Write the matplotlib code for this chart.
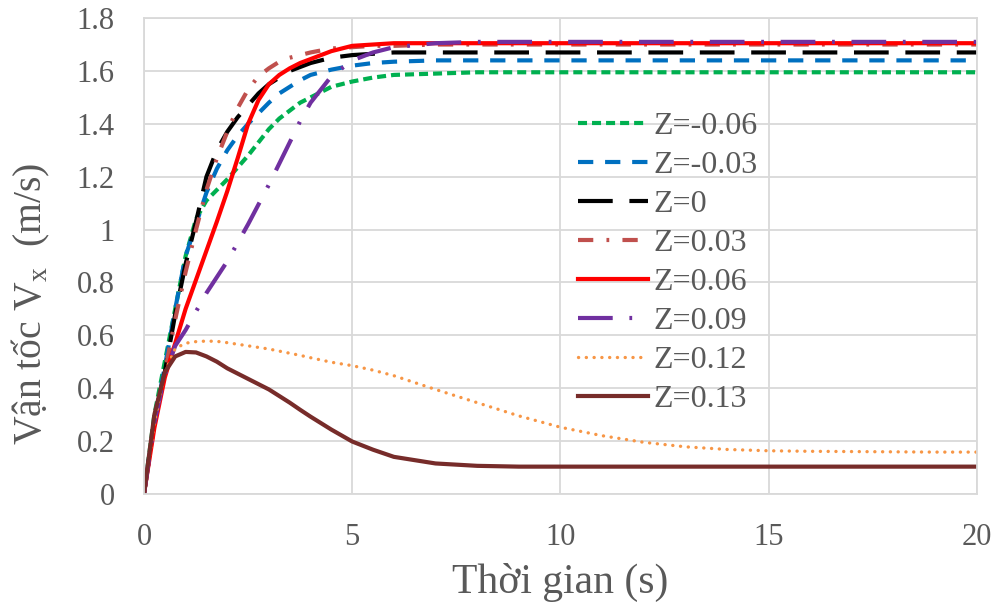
import matplotlib
matplotlib.use('Agg')
import matplotlib.pyplot as plt

plt.rcParams['font.family'] = ['Liberation Serif', 'DejaVu Serif']
plt.rcParams['mathtext.fontset'] = 'custom'
plt.rcParams['mathtext.rm'] = 'Liberation Serif'
plt.rcParams['lines.scale_dashes'] = False

# time axis (s)
t = [0, 0.25, 0.5, 0.75, 1, 1.25, 1.5, 1.75, 2, 2.25, 2.5, 2.75, 3, 3.25, 3.5, 3.75, 4,
     4.5, 5, 5.5, 6, 7, 8, 9, 10, 11, 12, 13, 14, 15, 16, 17, 18, 19, 20]

v_m006 = [0, 0.30, 0.50, 0.70, 0.90, 1.04, 1.11, 1.15, 1.19, 1.235, 1.28, 1.33, 1.38, 1.42, 1.45, 1.48, 1.50,
          1.54, 1.56, 1.575, 1.585, 1.59, 1.595, 1.595, 1.595, 1.595, 1.595, 1.595, 1.595, 1.595, 1.595,
          1.595, 1.595, 1.595, 1.595]
v_m003 = [0, 0.28, 0.48, 0.70, 0.90, 1.02, 1.14, 1.23, 1.30, 1.355, 1.40, 1.44, 1.48, 1.515, 1.54, 1.565, 1.585,
          1.605, 1.62, 1.63, 1.635, 1.64, 1.64, 1.64, 1.64, 1.64, 1.64, 1.64, 1.64, 1.64,
          1.64, 1.64, 1.64, 1.64, 1.64]
v_0 = [0, 0.27, 0.46, 0.68, 0.87, 1.03, 1.20, 1.30, 1.37, 1.425, 1.47, 1.515, 1.55, 1.575, 1.60, 1.615, 1.63,
       1.65, 1.66, 1.665, 1.67, 1.67, 1.67, 1.67, 1.67, 1.67, 1.67, 1.67, 1.67, 1.67,
       1.67, 1.67, 1.67, 1.67, 1.67]
v_p003 = [0, 0.27, 0.46, 0.66, 0.84, 1.00, 1.15, 1.27, 1.37, 1.46, 1.53, 1.58, 1.61, 1.635, 1.65, 1.66, 1.67,
          1.685, 1.69, 1.695, 1.695, 1.70, 1.70, 1.70, 1.70, 1.70, 1.70, 1.70, 1.70, 1.70,
          1.70, 1.70, 1.70, 1.70, 1.70]
v_p006 = [0, 0.25, 0.44, 0.57, 0.70, 0.81, 0.92, 1.03, 1.145, 1.27, 1.40, 1.49, 1.55, 1.585, 1.61, 1.63, 1.645,
          1.675, 1.695, 1.70, 1.705, 1.705, 1.705, 1.705, 1.705, 1.705, 1.705, 1.705, 1.705, 1.705,
          1.705, 1.705, 1.705, 1.705, 1.705]
v_p009 = [0, 0.27, 0.45, 0.56, 0.62, 0.69, 0.76, 0.82, 0.88, 0.95, 1.02, 1.095, 1.17, 1.25, 1.33, 1.41, 1.48,
          1.58, 1.64, 1.67, 1.69, 1.705, 1.71, 1.71, 1.71, 1.71, 1.71, 1.71, 1.71, 1.71,
          1.71, 1.71, 1.71, 1.71, 1.71]
v_p012 = [0, 0.27, 0.46, 0.55, 0.57, 0.576, 0.578, 0.577, 0.572, 0.566, 0.56, 0.554, 0.548, 0.54, 0.532, 0.524,
          0.515, 0.498, 0.485, 0.468, 0.447, 0.395, 0.345, 0.295, 0.252, 0.22, 0.195, 0.178, 0.168, 0.163,
          0.161, 0.16, 0.159, 0.158, 0.158]
v_p013 = [0, 0.30, 0.46, 0.52, 0.537, 0.535, 0.52, 0.50, 0.475, 0.455, 0.435, 0.415, 0.395, 0.37, 0.345, 0.318,
          0.292, 0.243, 0.198, 0.167, 0.14, 0.115, 0.106, 0.103, 0.103, 0.103, 0.103, 0.103, 0.103, 0.103,
          0.103, 0.103, 0.103, 0.103, 0.103]

labels = ['Z=-0.06', 'Z=-0.03', 'Z=0', 'Z=0.03', 'Z=0.06', 'Z=0.09', 'Z=0.12', 'Z=0.13']
series = [v_m006, v_m003, v_0, v_p003, v_p006, v_p009, v_p012, v_p013]
colors = ['#00B050', '#0070C0', '#000000', '#C0504D', '#FF0000', '#7030A0', '#F79646', '#772C2A']
dashes = [(6.5, 3.6), (11, 8.5), (25, 12), (11, 9.5, 2, 9.5), None, (25, 12, 2, 12), (0.1, 5.5), None]

fig = plt.figure(figsize=(9.95, 6.03), dpi=100)
ax = fig.add_axes([0.1447, 0.181, 0.8372, 0.789])

for y, lab, c, d in zip(series, labels, colors, dashes):
    line, = ax.plot(t, y, color=c, lw=3, label=lab, solid_joinstyle='round')
    if d is not None:
        line.set_dashes(d)
    if lab == 'Z=0.12':
        line.set_dash_capstyle('round')
        line.set_linewidth(2.4)

ax.set_xlim(0, 20)
ax.set_ylim(0, 1.8)
ax.set_xticks([0, 5, 10, 15, 20])
ax.set_yticks([0, 0.2, 0.4, 0.6, 0.8, 1.0, 1.2, 1.4, 1.6, 1.8])
ax.set_yticklabels(['0', '0.2', '0.4', '0.6', '0.8', '1', '1.2', '1.4', '1.6', '1.8'])
ax.grid(True, color='#D9D9D9', lw=1.3)
ax.set_axisbelow(True)
for s in ax.spines.values():
    s.set_color('#D9D9D9')
    s.set_linewidth(1.3)
ax.tick_params(length=0, labelsize=22, labelcolor='#595959', pad=21)

ax.set_xlabel('Thời gian (s)', fontsize=30, color='#595959', labelpad=8)
ax.set_ylabel('Vận tốc V$_\\mathregular{x}$  (m/s)', fontsize=28.5, color='#595959')
ax.yaxis.set_label_coords(-0.11, 0.40)

leg = ax.legend(loc='upper left', bbox_to_anchor=(578 / 995, 1 - 112 / 603),
                bbox_transform=fig.transFigure, frameon=False, fontsize=23,
                handlelength=2.2, handletextpad=0.15, labelspacing=0.3,
                borderpad=0, borderaxespad=0)
for txt in leg.get_texts():
    txt.set_color('#595959')

fig.savefig('out.png', dpi=100)
